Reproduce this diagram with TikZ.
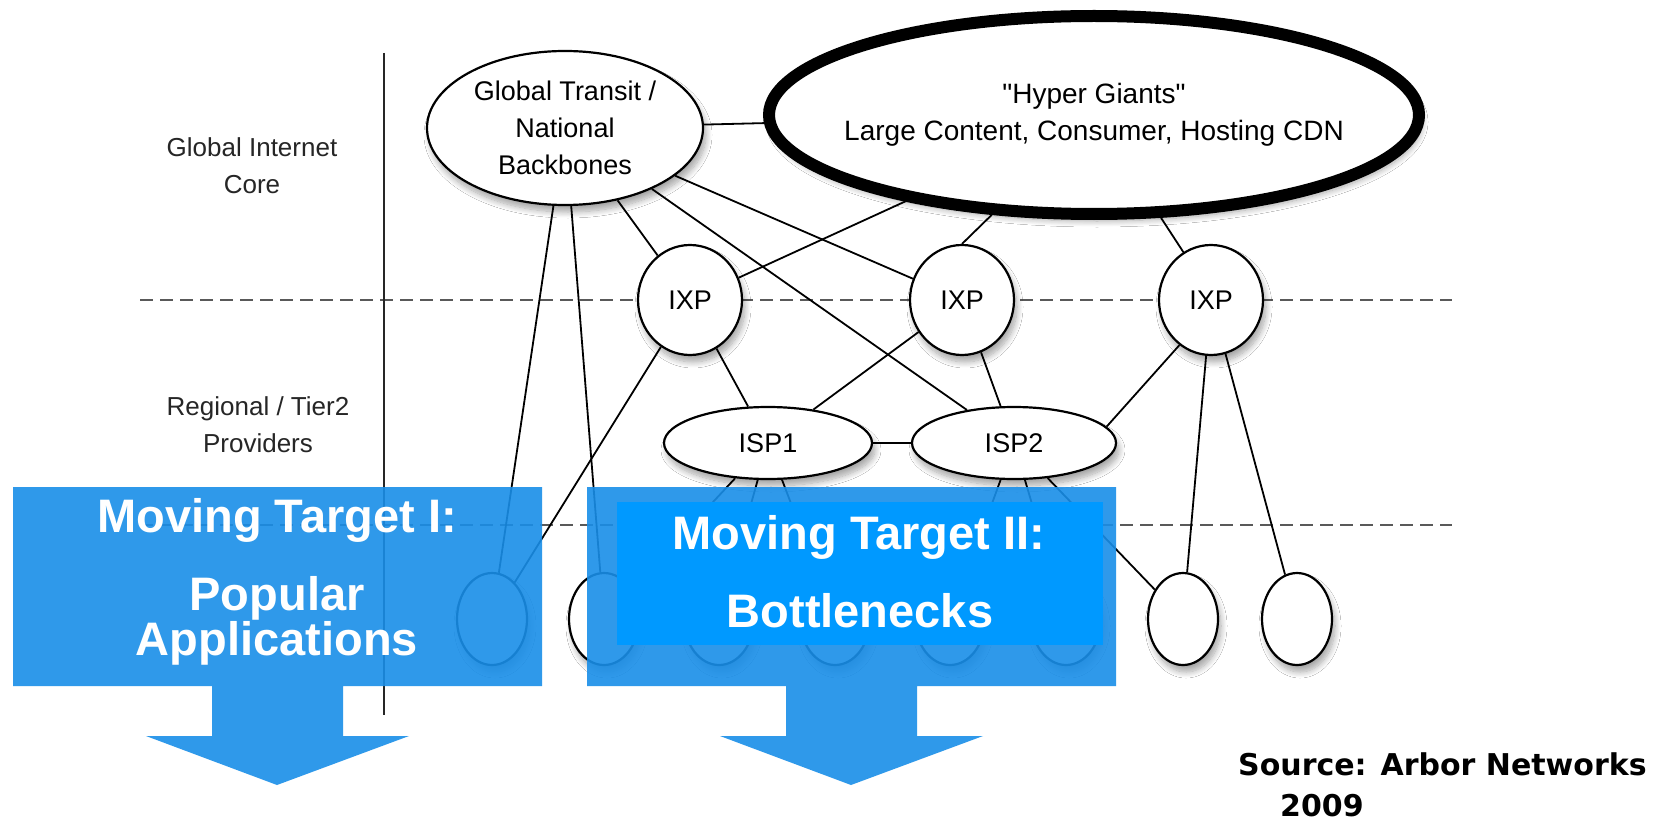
\documentclass[tikz,border=0pt]{standalone}
\usepackage{fontspec}
\setmainfont{Liberation Sans}
\newfontfamily\plainsans{Liberation Sans}[Ligatures=TeXOff]
\newfontfamily\srcfont{DejaVu Sans}
\usetikzlibrary{shapes.geometric,backgrounds,shadows.blur}
\definecolor{callblue}{RGB}{0,153,255}
\definecolor{ditherblue}{RGB}{25,142,232}
\tikzset{
  nd/.style={ellipse, draw=black, line width=2.2pt, fill=white, inner sep=0pt,
    font=\fontsize{27}{37}\selectfont, align=center,
    blur shadow={shadow xshift=3pt, shadow yshift=-7pt, shadow opacity=35, shadow blur steps=10, shadow blur radius=6pt}},
  leafnode/.style={nd, minimum width=70pt, minimum height=92pt},
  ixpnode/.style={nd, minimum width=104pt, minimum height=110pt},
  ispnode/.style={nd, minimum width=206pt, minimum height=72pt},
  lbl/.style={font=\fontsize{26}{37}\selectfont, align=center, text=black!85},
  conn/.style={line width=1.8pt, black},
  tier/.style={line width=2.6pt, black!65, dash pattern=on 13pt off 7pt},
  axis/.style={line width=2pt, black!85},
  callout/.style={fill=ditherblue, opacity=0.9},
  bigtxt/.style={text=white, font=\fontsize{47}{45}\selectfont\bfseries, align=center},
  srctxt/.style={anchor=west, inner sep=0pt, font=\srcfont\bfseries\fontsize{30}{36}\selectfont}
}
\begin{document}
\begin{tikzpicture}[x=1pt,y=-1pt]
\path[use as bounding box] (0,0) rectangle (1659,821);

% nodes
\node[nd, minimum width=276pt, minimum height=154pt] (gt) at (565,128) {Global Transit /\\National\\Backbones};
\node[nd, line width=12pt, minimum width=650pt, minimum height=198pt, inner xsep=-90pt,
      font=\plainsans\fontsize{28}{37}\selectfont] (hg) at (1094,115) {"Hyper Giants"\\Large Content, Consumer, Hosting CDN};
\node[ixpnode] (ixp1) at (690,300) {IXP};
\node[ixpnode] (ixp2) at (962,300) {IXP};
\node[ixpnode] (ixp3) at (1211,300) {IXP};
\node[ispnode, minimum width=208pt] (isp1) at (768,443) {ISP1};
\node[ispnode, minimum width=204pt] (isp2) at (1014,443) {ISP2};
\node[leafnode] (leaf1) at (492,619) {};
\node[leafnode] (leaf2) at (604,619) {};
\node[leafnode] (leaf3) at (719,619) {};
\node[leafnode] (leaf4) at (835,619) {};
\node[leafnode] (leaf5) at (950,619) {};
\node[leafnode] (leaf6) at (1066,619) {};
\node[leafnode] (leaf7) at (1183,619) {};
\node[leafnode] (leaf8) at (1297,619) {};

\node[lbl] (core) at (252,166) {Global Internet\\Core};
\node[lbl] (regional) at (258,425) {Regional / Tier2\\Providers};

\coordinate (d1a) at (140,300); \coordinate (d1b) at (1452,300);
\coordinate (d2a) at (140,525); \coordinate (d2b) at (1452,525);
\coordinate (va) at (384,53); \coordinate (vb) at (384,715);

\begin{scope}[on background layer]
  \fill[white] (0,0) rectangle (1659,821);
  \draw[tier] (d1a) -- (d1b);
  \draw[tier] (d2a) -- (d2b);
  \draw[axis] (va) -- (vb);
  \draw[conn] (gt) -- (hg);
  \draw[conn] (gt) -- (ixp1);
  \draw[conn] (gt) -- (ixp2);
  \draw[conn] (gt) -- (isp2);
  \draw[conn] (gt) -- (leaf1);
  \draw[conn] (gt) -- (leaf2);
  \draw[conn] (hg) -- (ixp1);
  \draw[conn] (hg) -- (ixp2.north);
  \draw[conn] (hg) -- (ixp3.120);
  \draw[conn] (ixp1) -- (isp1);
  \draw[conn] (ixp1) -- (leaf1);
  \draw[conn] (ixp2) -- (isp1);
  \draw[conn] (ixp2) -- (isp2);
  \draw[conn] (isp2.10) -- (ixp3.235);
  \draw[conn] (isp1) -- (isp2);
  \draw[conn] (isp1) -- (leaf2);
  \draw[conn] (isp1) -- (leaf3);
  \draw[conn] (isp1) -- (leaf4);
  \draw[conn] (isp2) -- (leaf5);
  \draw[conn] (isp2) -- (leaf6);
  \draw[conn] (isp2) -- (leaf7);
  \draw[conn] (ixp3) -- (leaf7);
  \draw[conn] (ixp3) -- (leaf8);
\end{scope}

% callouts
\fill[callout] (13,487) -- (542,487) -- (542,686) -- (343,686) -- (343,736) -- (409,736)
  -- (277,785) -- (146,736) -- (212,736) -- (212,686) -- (13,686) -- cycle;
\fill[callout] (587,487) -- (1116,487) -- (1116,686) -- (917,686) -- (917,736) -- (983,736)
  -- (851,785) -- (720,736) -- (786,736) -- (786,686) -- (587,686) -- cycle;
\fill[callblue] (617,502) rectangle (1103,645);

\node[bigtxt] (t1a) at (277,520) {Moving Target I:};
\node[bigtxt] (t1b) at (277,621) {Popular\\Applications};
\node[bigtxt] (t2a) at (859,537) {Moving Target II:};
\node[bigtxt] (t2b) at (860,611) {Bottlenecks};

\node[srctxt] (src) at (1238,764) {Source: Arbor Networks};
\node[srctxt] (year) at (1280,806) {2009};
\end{tikzpicture}
\end{document}
